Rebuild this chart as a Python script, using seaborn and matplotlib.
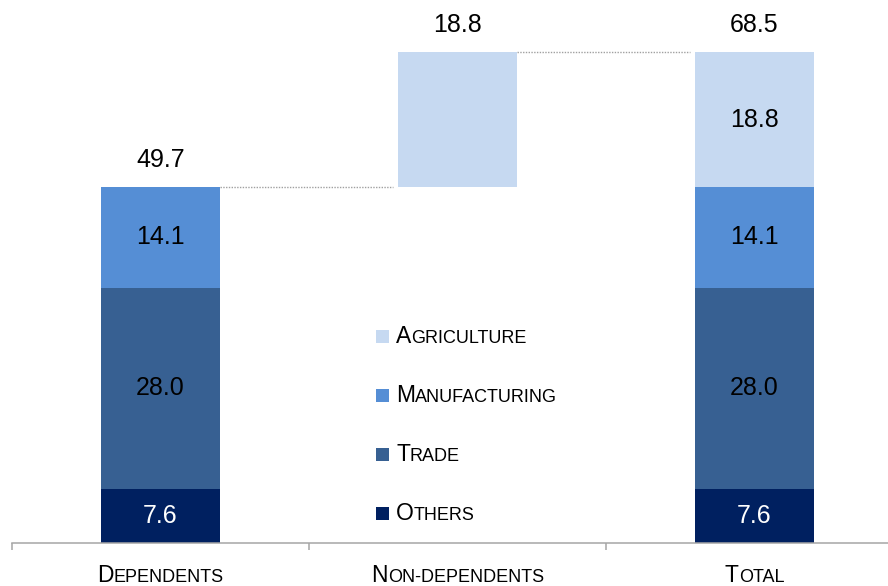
import numpy as np
import matplotlib
matplotlib.use("Agg")
import matplotlib.pyplot as plt
from matplotlib.offsetbox import (TextArea, HPacker, VPacker, DrawingArea,
                                  AnchoredOffsetbox, AnnotationBbox)
from matplotlib.patches import Rectangle
import seaborn as sns

# data
categories = ["Dependents", "Non-dependents", "Total"]
sectors = ["Others", "Trade", "Manufacturing", "Agriculture"]   # bottom -> top
others = [7.6, 0.0, 7.6]
trade = [28.0, 0.0, 28.0]
manufacturing = [14.1, 0.0, 14.1]
agriculture = [0.0, 18.8, 18.8]
totals = [49.7, 18.8, 68.5]
floating_base = [0.0, 49.7, 0.0]

colors = {
    "Agriculture": "#C6D9F1",
    "Manufacturing": "#558ED5",
    "Trade": "#376092",
    "Others": "#002060",
}
text_colors = {"Agriculture": "black", "Manufacturing": "black",
               "Trade": "black", "Others": "white"}

sns.set_theme(style="white")
plt.rcParams['font.family'] = ['Liberation Sans', 'DejaVu Sans']

BIG, SMALL = 16.5, 13
NUM = 18

fig = plt.figure(figsize=(8.88, 5.86), dpi=100)
ax = fig.add_axes([12 / 888, 43 / 586, 891 / 888, 541 / 586])

layers = dict(zip(sectors, [others, trade, manufacturing, agriculture]))
bottom = np.array(floating_base, dtype=float)
for name in sectors:
    vals = np.array(layers[name], dtype=float)
    sns.barplot(x=categories, y=vals, bottom=bottom, color=colors[name],
                saturation=1, width=0.4, linewidth=0, ax=ax)
    for i, (v, b) in enumerate(zip(vals, bottom)):
        if v > 0 and floating_base[i] == 0:
            ax.text(i, b + v / 2, f"{v:.1f}", ha='center', va='center',
                    fontsize=NUM, color=text_colors[name])
    bottom = bottom + vals

tops = np.array(floating_base) + np.array(totals)
for i, t in enumerate(tops):
    ax.annotate(f"{totals[i]:.1f}", xy=(i, t), xytext=(0, 11),
                textcoords='offset points', ha='center', va='bottom',
                fontsize=NUM, color='black')

# dotted connectors
w = 0.4
for i in range(len(categories) - 1):
    ax.plot([i + w / 2, i + 1 - w / 2 - 0.017], [tops[i], tops[i]],
            color='#A0A0A0', linestyle=(0, (1, 1)), linewidth=1)

ax.set_ylim(0, 75.5)
ax.set_xlim(-0.5, 2.5)
ax.set_xlabel('')
ax.set_ylabel('')
ax.set_yticks([])
ax.set_xticks([-0.5, 0.5, 1.5, 2.5])
ax.set_xticklabels([])
ax.tick_params(axis='x', direction='out', length=5, width=1.1,
               color='#A6A6A6', bottom=True)
for s in ['top', 'right', 'left']:
    ax.spines[s].set_visible(False)
ax.spines['bottom'].set_color('#A6A6A6')
ax.spines['bottom'].set_linewidth(1.1)


def small_caps(word, color='black'):
    parts = []
    run, big = "", None
    for ch in word:
        is_big = ch.isupper()
        if big is None or is_big == big:
            run += ch.upper()
        else:
            parts.append((run, big))
            run = ch.upper()
        big = is_big
    parts.append((run, big))
    areas = [TextArea(t, textprops=dict(fontsize=BIG if b else SMALL, color=color))
             for t, b in parts]
    return HPacker(children=areas, align='baseline', pad=0, sep=0)


for i, cat in enumerate(categories):
    ab = AnnotationBbox(small_caps(cat), (i, 0), xycoords=('data', 'axes fraction'),
                        xybox=(0, -15), boxcoords='offset points',
                        box_alignment=(0.5, 1), frameon=False, pad=0,
                        annotation_clip=False)
    ax.add_artist(ab)

# legend
rows = []
for name in sectors[::-1]:
    da = DrawingArea(9.4, 9.4, 0, 0)
    da.add_artist(Rectangle((0, 0), 9.4, 9.4, facecolor=colors[name], edgecolor='none'))
    rows.append(HPacker(children=[da, small_caps(name.capitalize())],
                        align='baseline', pad=0, sep=5))
legend_box = VPacker(children=rows, align='left', pad=0, sep=26)
anchored = AnchoredOffsetbox(loc='upper left', child=legend_box, pad=0, borderpad=0,
                             frameon=False, bbox_to_anchor=(376 / 888, 1 - 325 / 586),
                             bbox_transform=fig.transFigure)
ax.add_artist(anchored)

plt.savefig('out.png', dpi=100)
